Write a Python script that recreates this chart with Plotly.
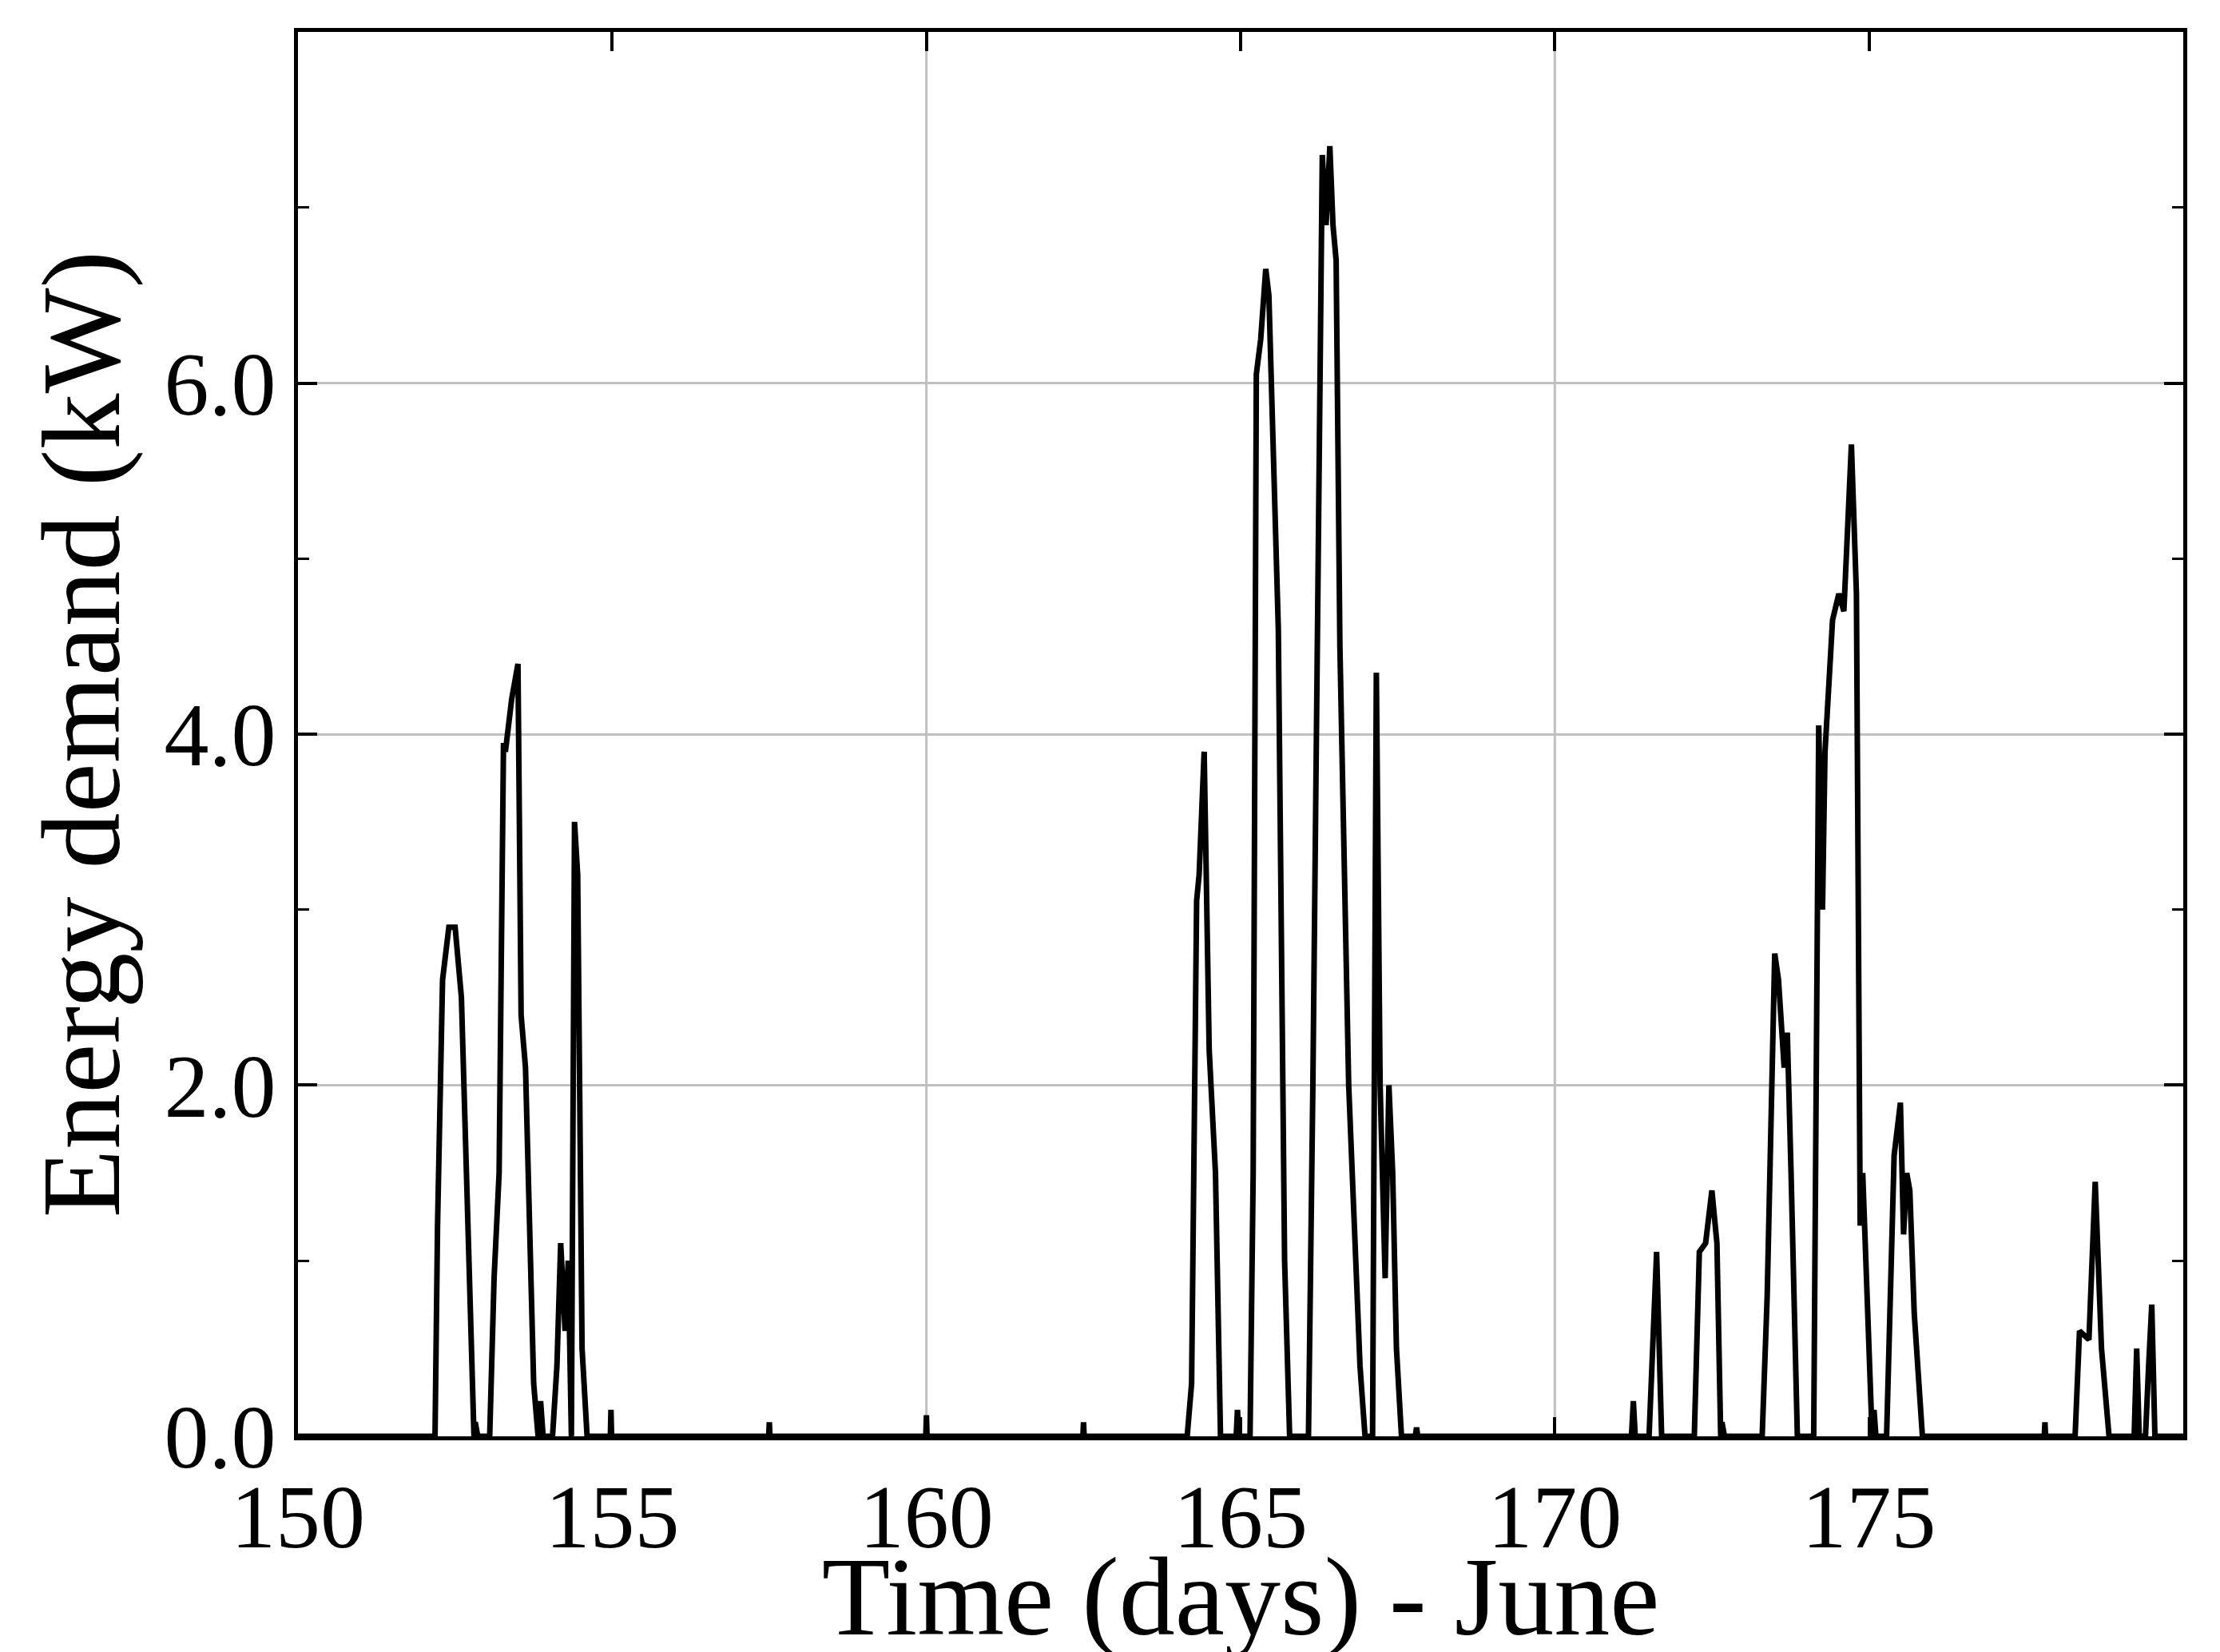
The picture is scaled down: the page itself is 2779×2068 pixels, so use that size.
import plotly.graph_objects as go

time_days = [150.0, 152.18, 152.22, 152.3, 152.4, 152.5, 152.6, 152.72, 152.8, 152.82, 152.85, 152.86,
             153.05, 153.12, 153.2, 153.27, 153.3, 153.4, 153.5, 153.55, 153.62, 153.75, 153.82, 153.86, 153.9, 153.94,
             154.05, 154.12, 154.18, 154.25, 154.3, 154.35, 154.4, 154.45, 154.52, 154.6, 154.97, 154.98, 154.99,
             157.49, 157.5, 157.51, 159.99, 160.0, 160.01, 162.49, 162.5, 162.51,
             164.15, 164.22, 164.3, 164.34, 164.42, 164.5, 164.6, 164.68, 164.93, 164.95, 164.97,
             165.15, 165.2, 165.25, 165.32, 165.4, 165.45, 165.5, 165.6, 165.7, 165.78,
             166.08, 166.15, 166.3, 166.36, 166.42, 166.47, 166.52, 166.58, 166.72, 166.82, 166.9, 166.98,
             167.1, 167.16, 167.22, 167.3, 167.36, 167.42, 167.48, 167.56, 167.78, 167.8, 167.82,
             171.22, 171.25, 171.28, 171.5, 171.62, 171.7,
             172.22, 172.3, 172.4, 172.5, 172.58, 172.64, 172.66, 172.68, 172.7,
             173.3, 173.38, 173.5, 173.56, 173.65, 173.7, 173.76, 173.86,
             174.12, 174.2, 174.26, 174.3, 174.42, 174.52, 174.6, 174.72, 174.8, 174.86, 174.9, 175.0, 175.05, 175.08, 175.11, 175.14,
             175.28, 175.4, 175.5, 175.55, 175.6, 175.65, 175.72, 175.85,
             177.79, 177.8, 177.81,
             178.28, 178.35, 178.5, 178.6, 178.7, 178.82,
             179.22, 179.26, 179.3, 179.4, 179.45, 179.5, 179.55, 180.0]
demand_kw = [0.0, 0.0, 1.2, 2.6, 2.9, 2.9, 2.5, 0.9, 0.0, 0.08, 0.0, 0.0,
             0.0, 0.9, 1.5, 3.95, 3.9, 4.2, 4.4, 2.4, 2.1, 0.3, 0.0, 0.2, 0.0, 0.0,
             0.0, 0.4, 1.1, 0.6, 1.0, 0.0, 3.5, 3.2, 0.5, 0.0, 0.0, 0.15, 0.0,
             0.0, 0.08, 0.0, 0.0, 0.12, 0.0, 0.0, 0.08, 0.0,
             0.0, 0.3, 3.05, 3.2, 3.9, 2.2, 1.5, 0.0, 0.0, 0.15, 0.0,
             0.0, 1.5, 6.05, 6.25, 6.65, 6.5, 5.9, 4.6, 1.0, 0.0,
             0.0, 2.0, 7.3, 6.9, 7.35, 6.9, 6.7, 4.5, 2.0, 1.0, 0.4, 0.0,
             0.0, 4.35, 2.0, 0.9, 2.0, 1.5, 0.5, 0.0, 0.0, 0.05, 0.0,
             0.0, 0.2, 0.0, 0.0, 1.05, 0.0,
             0.0, 1.05, 1.1, 1.4, 1.1, 0.0, 0.08, 0.0, 0.0,
             0.0, 0.8, 2.75, 2.6, 2.1, 2.3, 1.5, 0.0,
             0.0, 4.05, 3.0, 3.9, 4.65, 4.8, 4.7, 5.65, 4.8, 1.2, 1.5, 0.6, 0.0, 0.15, 0.0, 0.0,
             0.0, 1.6, 1.9, 1.15, 1.5, 1.4, 0.7, 0.0,
             0.0, 0.08, 0.0,
             0.0, 0.6, 0.55, 1.45, 0.5, 0.0,
             0.0, 0.5, 0.0, 0.0, 0.4, 0.75, 0.0, 0.0]

y_tickvals = [0, 2, 4, 6, 8]
y_ticktext = ["0.0", "2.0", "4.0", "6.0", "8.0"]
x_tickvals = [150, 155, 160, 165, 170, 175, 180]
x_gridvals = [160, 170]

font = "Liberation Serif"
fig = go.Figure(go.Scatter(x=time_days, y=demand_kw, mode="lines",
                           line=dict(color="black", width=7)))
axis_common = dict(showline=True, linecolor="black", linewidth=5, mirror="allticks",
                   ticks="inside", ticklen=24, tickwidth=4, tickcolor="black",
                   gridcolor="#c0c0c0", gridwidth=3, zeroline=False,
                   tickfont=dict(family=font, size=112, color="black"))
fig.update_xaxes(range=[149.999, 180.001], tickvals=x_tickvals, showgrid=False,
                 title=dict(text="Time (days) - June", font=dict(family=font, size=140, color="black"), standoff=5),
                 **axis_common)
fig.update_yaxes(range=[-0.0005, 8.0005], tickvals=y_tickvals, ticktext=y_ticktext,
                 title=dict(text="Energy demand (kW)", font=dict(family=font, size=140, color="black"), standoff=10),
                 minor=dict(dtick=1, ticks="inside", ticklen=14, tickwidth=3, tickcolor="black", showgrid=False),
                 **axis_common)
for gx in x_gridvals:
    fig.add_shape(type="line", xref="x", yref="paper", x0=gx, x1=gx, y0=0, y1=1,
                  line=dict(color="#c0c0c0", width=3), layer="below")
fig.update_layout(width=2779, height=2068, paper_bgcolor="white", plot_bgcolor="white",
                  margin=dict(l=365, r=54, t=32, b=269), showlegend=False)
fig.write_html("out.html")
